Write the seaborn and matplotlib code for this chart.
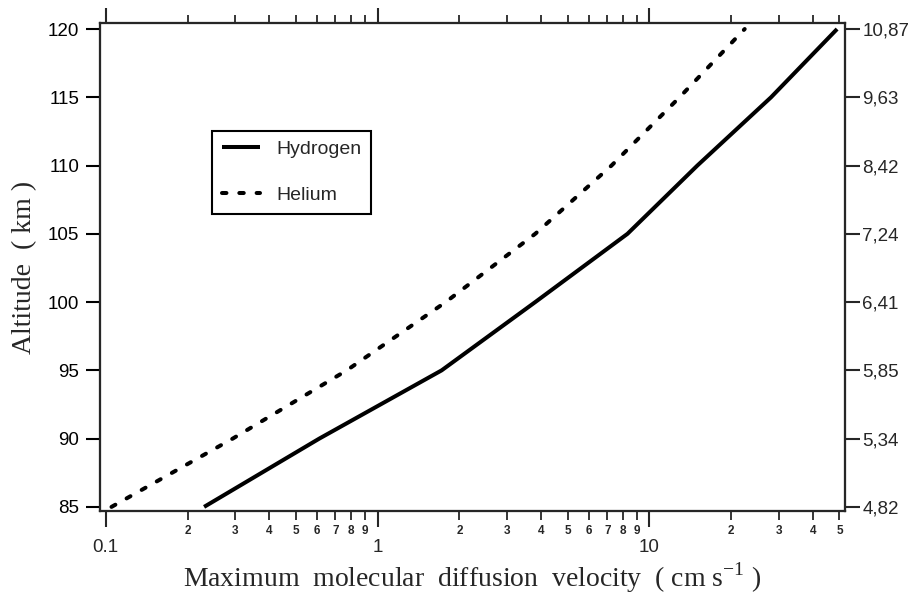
import numpy as np
import pandas as pd
import matplotlib
matplotlib.use("Agg")
import matplotlib.pyplot as plt
import matplotlib.ticker as mticker
import seaborn as sns

altitude = [85, 90, 95, 100, 105, 110, 115, 120]
hydrogen = [0.23, 0.61, 1.72, 3.8, 8.3, 15.0, 28.0, 49.0]
helium = [0.105, 0.293, 0.77, 1.78, 3.8, 7.25, 12.9, 22.4]
right_ticks = [85, 90, 95, 100, 105, 110, 115, 120]
right_labels = ["4,82", "5,34", "5,85", "6,41", "7,24", "8,42", "9,63", "10,87"]
series_names = ["Hydrogen", "Helium"]

df = pd.concat([
    pd.DataFrame({"velocity": hydrogen, "altitude": altitude, "gas": series_names[0]}),
    pd.DataFrame({"velocity": helium, "altitude": altitude, "gas": series_names[1]}),
])

sns.set_style("ticks")
plt.rcParams["font.family"] = ["Liberation Sans", "DejaVu Sans"]

fig = plt.figure(figsize=(9.18, 5.98), dpi=100)
ax = fig.add_axes([0.109, 0.1455, 0.8115, 0.816])

LW = 2.9
sns.lineplot(data=df, x="velocity", y="altitude", hue="gas", style="gas",
             palette={"Hydrogen": "black", "Helium": "black"},
             dashes={"Hydrogen": "", "Helium": (1.1, 3.2)},
             linewidth=LW, sort=False, estimator=None, ax=ax)
for ln in ax.lines:
    ln.set_dash_capstyle("round")
    ln.set_solid_capstyle("butt")
    ln.set_solid_joinstyle("round")

ax.set_xscale("log")
xlim = (0.0953, 52.4)
ylim = (84.7, 120.44)
ax.set_xlim(*xlim)
ax.set_ylim(*ylim)

ax.xaxis.set_major_locator(mticker.FixedLocator([0.1, 1, 10]))
ax.xaxis.set_major_formatter(mticker.FixedFormatter(["0.1", "1", "10"]))
minor_pos = [m * 10.0 ** e for e in (-1, 0, 1) for m in range(2, 10) if m * 10.0 ** e < 52]
minor_lab = [str(int(round(p / 10.0 ** np.floor(np.log10(p))))) for p in minor_pos]
ax.xaxis.set_minor_locator(mticker.FixedLocator(minor_pos))
ax.xaxis.set_minor_formatter(mticker.FixedFormatter(minor_lab))

ax.set_yticks(right_ticks)
ax.tick_params(axis="y", which="major", direction="out", length=10, width=1.5,
               labelsize=13.5, pad=5, colors="black")
ax.tick_params(axis="x", which="major", direction="out", length=11.5, width=1.5,
               labelsize=13.5, pad=9)
ax.tick_params(axis="x", which="minor", direction="out", length=6.5, width=1.3,
               labelsize=8.5, pad=3.5)
for lab in ax.xaxis.get_minorticklabels():
    lab.set_fontweight("bold")

for s in ax.spines.values():
    s.set_linewidth(1.5)
    s.set_color("black")

ax.set_xlabel("Maximum  molecular  diffusion  velocity  ( cm s$^{\\mathregular{-1}}$ )",
              fontsize=20, family="Liberation Serif", labelpad=3)
ax.set_ylabel("Altitude  ( km )", fontsize=20, family="Liberation Serif", labelpad=8)

# right axis
axr = ax.twinx()
axr.set_ylim(*ylim)
axr.set_yticks(right_ticks)
axr.set_yticklabels(right_labels)
axr.tick_params(axis="y", direction="out", length=11, width=1.5, labelsize=13.5, pad=1.5)
for s in axr.spines.values():
    s.set_linewidth(1.5)

# top axis
axt = ax.twiny()
axt.set_xscale("log")
axt.set_xlim(*xlim)
axt.xaxis.set_major_locator(mticker.FixedLocator([0.1, 1, 10]))
axt.xaxis.set_minor_locator(mticker.FixedLocator(minor_pos))
axt.tick_params(axis="x", which="major", direction="out", length=11, width=1.5,
                labeltop=False)
axt.tick_params(axis="x", which="minor", direction="out", length=5.5, width=1.3,
                labeltop=False)
axt.xaxis.set_major_formatter(mticker.NullFormatter())
axt.xaxis.set_minor_formatter(mticker.NullFormatter())
for s in axt.spines.values():
    s.set_linewidth(1.5)

leg = ax.legend(loc="upper left", bbox_to_anchor=(0.150, 0.779), borderaxespad=0,
                frameon=True, fancybox=False, edgecolor="black", fontsize=14,
                handlelength=2.0, labelspacing=1.45, borderpad=0.5, handletextpad=0.8)
leg.get_frame().set_linewidth(1.5)
leg.get_frame().set_alpha(1)
for h in leg.get_lines():
    h.set_linewidth(LW)

fig.savefig("out.png", dpi=100)
